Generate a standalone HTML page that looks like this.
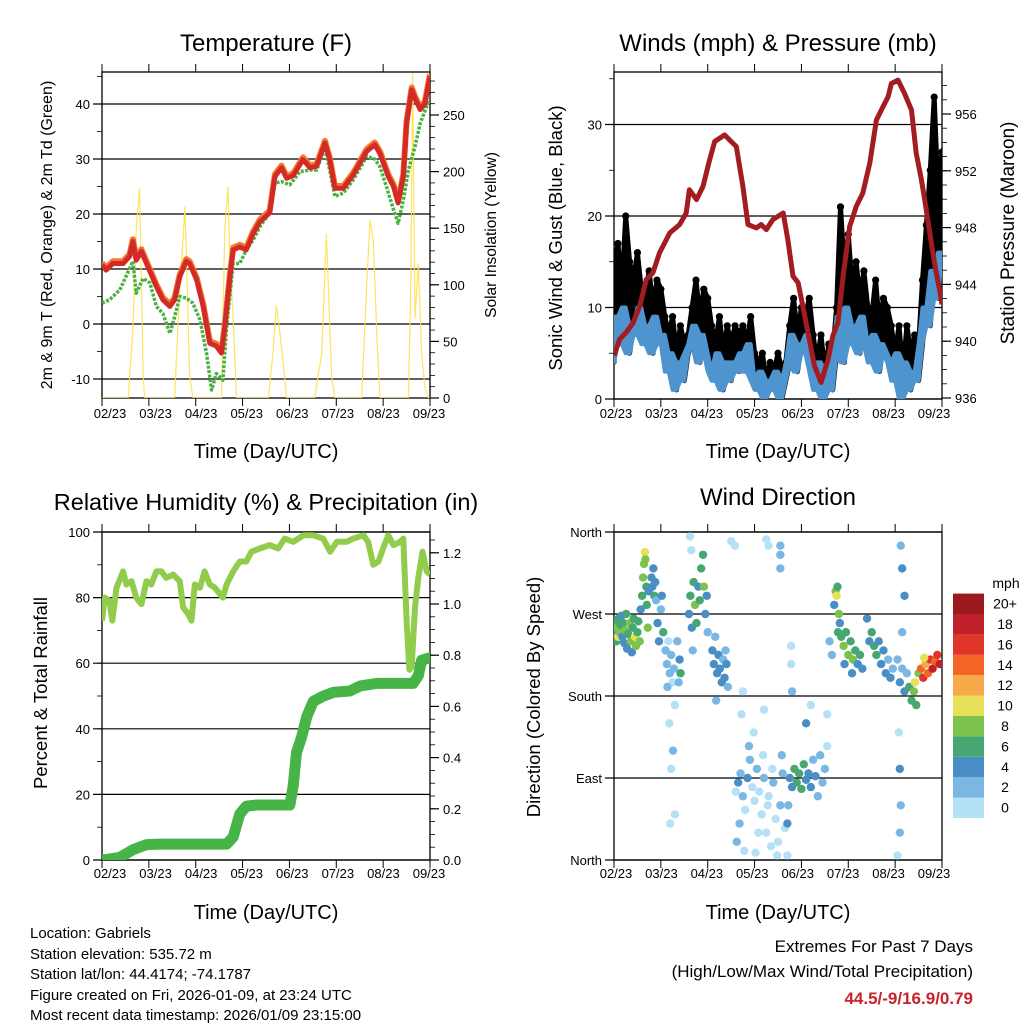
<!DOCTYPE html>
<html><head><meta charset="utf-8"><style>
html,body{margin:0;padding:0;background:#fff;}
svg{display:block;font-family:"Liberation Sans",sans-serif;}
</style></head><body>
<svg id="root" width="1024" height="1024" viewBox="0 0 1024 1024" xmlns="http://www.w3.org/2000/svg">
<defs>
<clipPath id="c1"><rect x="102" y="72" width="328" height="326"/></clipPath>
<clipPath id="c2"><rect x="614" y="72" width="328" height="327"/></clipPath>
<clipPath id="c3"><rect x="102" y="532" width="328" height="328"/></clipPath>
<clipPath id="c4"><rect x="614" y="532" width="328" height="328"/></clipPath>
</defs>
<g id="layer"></g>
<text x="266" y="51" font-size="24" text-anchor="middle">Temperature (F)</text>
<text x="778" y="51" font-size="24" text-anchor="middle">Winds (mph) &amp; Pressure (mb)</text>
<text x="266" y="510" font-size="23.5" text-anchor="middle">Relative Humidity (%) &amp; Precipitation (in)</text>
<text x="778" y="505" font-size="24" text-anchor="middle">Wind Direction</text>
<text x="266" y="458" font-size="20" text-anchor="middle">Time (Day/UTC)</text>
<text x="778" y="458" font-size="20" text-anchor="middle">Time (Day/UTC)</text>
<text x="266" y="919" font-size="20" text-anchor="middle">Time (Day/UTC)</text>
<text x="778" y="919" font-size="20" text-anchor="middle">Time (Day/UTC)</text>
<text transform="translate(52,235) rotate(-90)" font-size="16" text-anchor="middle">2m &amp; 9m T (Red, Orange) &amp; 2m Td (Green)</text>
<text transform="translate(496,235) rotate(-90)" font-size="15.5" text-anchor="middle">Solar Insolation (Yellow)</text>
<text transform="translate(562,238) rotate(-90)" font-size="18.5" text-anchor="middle">Sonic Wind &amp; Gust (Blue, Black)</text>
<text transform="translate(1014,233) rotate(-90)" font-size="19" text-anchor="middle">Station Pressure (Maroon)</text>
<text transform="translate(47,693) rotate(-90)" font-size="18.5" text-anchor="middle">Percent &amp; Total Rainfall</text>
<text transform="translate(540,697) rotate(-90)" font-size="18.5" text-anchor="middle">Direction (Colored By Speed)</text>
<g font-size="15">
<text x="30" y="938">Location: Gabriels</text>
<text x="30" y="959">Station elevation: 535.72 m</text>
<text x="30" y="979">Station lat/lon: 44.4174; -74.1787</text>
<text x="30" y="1000">Figure created on Fri, 2026-01-09, at 23:24 UTC</text>
<text x="30" y="1020">Most recent data timestamp: 2026/01/09 23:15:00</text>
</g>
<g font-size="17" text-anchor="end">
<text x="973" y="952">Extremes For Past 7 Days</text>
<text x="973" y="977">(High/Low/Max Wind/Total Precipitation)</text>
<text x="973" y="1004" fill="#c8232c" font-weight="bold">44.5/-9/16.9/0.79</text>
</g>
</svg>
<script>
// ---- Temperature data ----
const tempT=[0,0.09,0.23,0.45,0.59,0.66,0.73,0.84,0.98,1.16,1.30,1.45,1.55,1.66,1.80,1.87,2.02,2.16,2.30,2.44,2.55,2.62,2.73,2.80,2.94,3.08,3.23,3.37,3.58,3.69,3.83,3.94,4.08,4.29,4.44,4.58,4.76,4.86,4.97,5.15,5.36,5.65,5.82,5.93,6.11,6.22,6.32,6.43,6.50,6.61,6.68,6.79,6.89,7.0];
const tempV=[10.7,9.8,11,11,12.3,15,11.6,13.2,10.4,6.8,4.4,3.2,4.4,8.6,11.4,11,8,3.2,-3.5,-4,-5.3,-0.5,8.6,13.5,14,13.5,16.5,18.6,20.2,26.8,28.4,26.5,27,29.9,28.4,28.7,32.9,29.9,24.7,24.7,27.1,31.4,32.6,31,26.8,25,22,26.8,36.5,42.6,41,39,40,45];
const dewT=[0,0.16,0.38,0.66,0.73,0.88,1.02,1.16,1.30,1.45,1.55,1.66,1.80,1.94,2.09,2.23,2.34,2.44,2.58,2.66,2.80,2.94,3.08,3.23,3.37,3.58,3.69,3.83,4.01,4.22,4.44,4.58,4.76,4.86,4.97,5.15,5.36,5.65,5.82,5.93,6.07,6.22,6.32,6.43,6.54,6.68,6.79,6.93,7.0];
const dewV=[3.8,4.4,6.2,11.4,5.6,8.3,7.5,3.2,1.9,-1.7,1.3,5,4.7,3.8,0.8,-5.3,-12,-9,-10.2,-0.5,11,11,13.5,15.3,17.7,20.2,25.6,25.9,25.3,27.7,28,28,32,28,23.2,23.8,26.2,30.5,30,28.6,25,20.8,18.3,22.5,28,32.3,36.5,39.6,40.8];
const solarT=[0,0.56,0.66,0.73,0.80,0.84,0.88,0.91,1.55,1.66,1.73,1.77,1.80,1.87,1.94,2.55,2.62,2.69,2.73,2.80,2.87,3.55,3.65,3.72,3.79,3.87,3.94,4.54,4.69,4.79,4.83,4.90,4.97,5.54,5.65,5.72,5.79,5.86,5.93,6.54,6.59,6.63,6.68,6.75,6.82,6.89,6.96,7.0];
const solarV=[0,0,60,150,185,100,20,0,0,100,140,169,130,20,0,0,150,187,120,70,0,0,40,82,60,30,0,0,40,145,100,20,0,0,100,157,140,60,0,0,100,287,70,119,40,10,0,0];
// ---- Winds data ----
const windV=[4,9,6,10,5,8,7,10,6,8,5,9,6,7,3,5,1,4,2,5,6,8,4,7,5,3,2,5,1,4,2,4,3,5,3,6,2,1,3,0,2,1,3,0,2,4,7,3,6,5,7,3,1,4,0,3,1,5,9,4,10,6,8,5,9,6,4,7,3,6,5,4,2,5,0,4,1,3,2,6,10,8,14,11,16];
const gustV=[14,17,12,20,15,13,16,12,11,14,10,13,12,9,7,9,5,8,6,7,10,13,9,12,11,8,6,9,5,8,6,8,7,8,6,9,5,4,5,2,4,3,5,3,4,8,11,7,10,9,11,7,4,7,3,6,5,10,21,14,18,12,15,11,14,10,9,13,8,11,10,8,5,8,3,8,5,7,6,13,19,25,33,22,27];
const presT=[0,0.12,0.26,0.41,0.55,0.69,0.83,0.97,1.19,1.40,1.54,1.61,1.76,1.90,2.04,2.15,2.36,2.50,2.61,2.75,2.86,3.04,3.14,3.25,3.39,3.61,3.71,3.82,3.93,4.03,4.18,4.28,4.42,4.57,4.67,4.78,4.89,5.03,5.17,5.31,5.46,5.60,5.74,5.85,5.92,6.06,6.20,6.35,6.45,6.56,6.63,6.74,6.85,6.96,7.0];
const presV=[938.97,940.14,940.61,941.31,942.48,944.35,944.82,946.22,947.63,948.21,949.03,950.67,949.97,950.9,952.77,954.06,954.53,954.06,953.71,950.9,948.21,947.98,948.21,947.86,948.56,949.03,947.16,944.58,944.12,942.48,939.91,938.27,937.1,938.74,940.37,941.31,944.58,948.09,949.5,950.43,952.54,955.58,956.51,957.22,958.15,958.39,957.45,956.28,953.24,951.37,949.97,947.63,945.29,943.42,942.6];
// ---- RH / precipitation ----
const rhT=[0,0.06,0.16,0.22,0.31,0.45,0.52,0.63,0.73,0.84,0.95,1.05,1.16,1.27,1.37,1.52,1.66,1.73,1.84,1.91,1.98,2.09,2.19,2.30,2.41,2.58,2.66,2.80,2.94,3.08,3.19,3.37,3.58,3.76,3.90,4.08,4.30,4.51,4.72,4.87,5.01,5.22,5.36,5.58,5.68,5.79,5.90,6.00,6.11,6.22,6.36,6.43,6.50,6.56,6.61,6.68,6.75,6.84,6.93,7.0];
const rhV=[73,80,79,73,83,88,84,85,80,78,85,84,88,88,86,87,85,77,75,73,84,83,88,84,83,80,84,88,91,91,94,95,96,95,98,97,99,99,98,94,97,97,98,99,97,90,91,95,99,96,97,98,73,58,59,77,86,94,88,87];
const prT=[0,0.38,0.66,0.95,1.23,2.66,2.80,2.94,3.08,3.30,4.01,4.08,4.15,4.26,4.37,4.51,4.72,4.94,5.29,5.51,5.86,6.64,6.75,6.82,7.0];
const prV=[0,0.01,0.04,0.06,0.062,0.062,0.09,0.18,0.21,0.215,0.215,0.29,0.42,0.48,0.56,0.62,0.64,0.655,0.66,0.68,0.69,0.69,0.72,0.78,0.79];
// ---- Wind direction ----
const dirT=[0.02,0.03,0.05,0.07,0.09,0.1,0.12,0.14,0.16,0.18,0.2,0.22,0.24,0.26,0.28,0.3,
0.34,0.36,0.38,0.4,0.42,0.45,0.47,0.5,0.52,0.55,0.57,0.6,0.62,0.64,0.66,0.67,0.69,0.7,0.72,0.74,
0.8,0.82,0.84,0.86,0.88,0.9,0.93,0.96,1.0,1.02,1.05,
1.1,1.13,1.16,1.19,1.22,1.25,1.28,1.3,1.18,1.22,1.2,1.26,1.3,1.38,1.4,1.42,1.35,1.14,
1.6,1.63,1.66,1.7,1.73,1.76,1.8,1.83,1.86,1.9,1.92,1.95,1.98,2.0,1.65,1.62,1.68,
2.1,2.13,2.16,2.2,2.23,2.26,2.3,2.33,2.36,2.4,2.43,2.38,2.18,
2.6,2.65,2.7,2.75,2.8,2.85,2.9,2.95,3.0,3.05,3.1,3.15,3.2,3.25,3.3,3.35,3.4,3.45,3.5,3.55,3.6,3.65,3.7,2.62,2.68,2.78,2.88,2.98,3.08,3.18,3.28,3.38,3.48,3.58,3.02,2.72,2.5,2.58,3.25,3.3,3.55,3.55,3.55,2.75,3.2,
3.75,3.8,3.85,3.9,3.95,4.0,4.05,4.1,4.15,4.2,4.25,4.3,4.35,4.4,4.45,4.5,4.55,3.72,3.7,4.1,3.8,3.78,3.78,4.2,4.55,
4.6,4.65,4.7,4.73,4.75,4.77,4.8,4.82,4.78,
4.85,4.9,4.95,5.0,5.05,5.1,5.15,5.2,5.25,5.3,4.92,5.08,
5.4,5.45,5.5,5.55,5.6,5.65,5.7,5.75,5.8,5.85,5.9,5.95,
6.05,6.1,6.15,6.2,6.25,6.3,6.35,6.4,6.45,6.42,6.5,6.08,6.1,6.12,6.1,6.05,6.15,6.2,6.15,6.12,
6.55,6.6,6.65,6.7,6.75,6.8,6.85,6.9,6.95,6.62];
const dirD=[250,262,240,255,245,265,250,258,268,245,260,238,252,270,232,248,
260,240,228,255,265,245,235,250,262,240,275,290,310,325,338,330,300,280,255,295,
310,300,320,290,305,285,260,240,275,290,250,
230,215,240,205,225,195,210,170,150,100,40,120,50,195,220,205,240,190,
270,290,255,305,280,260,300,285,320,335,300,270,290,250,340,355,230,
230,215,245,205,225,210,195,220,200,215,190,230,175,
75,85,95,70,55,90,110,80,65,100,75,50,90,30,70,15,85,45,20,60,95,35,5,20,40,10,125,140,30,115,60,100,5,115,8,160,350,345,352,345,335,320,345,185,165,
90,80,100,85,95,78,105,88,95,80,110,92,70,115,85,100,125,60,40,150,185,215,235,170,160,
240,225,280,295,290,300,270,260,250,
245,235,250,225,240,220,230,215,225,210,215,205,
265,240,250,235,225,240,215,230,205,220,200,210,
220,195,210,185,205,190,175,185,170,195,205,140,100,60,30,5,250,290,320,345,
210,200,215,205,220,210,218,225,215,222];
const dirS=[4,6,6,8,10,7,9,6,5,4,7,5,8,6,4,7,
8,9,5,7,6,10,8,6,7,9,4,6,8,9,10,8,6,7,9,5,
4,4,4,6,4,3,4,5,3,4,6,
2,2,1,2,3,1,2,1,1,1,1,2,1,2,4,6,2,2,
4,6,4,6,8,6,4,6,6,6,8,4,4,3,1,1,2,
4,4,3,4,4,4,4,3,4,4,2,3,2,
1,4,3,2,1,4,2,1,1,2,1,1,2,1,1,1,2,1,1,2,3,1,1,2,2,1,3,1,1,1,1,1,1,2,1,1,1,1,1,1,2,2,2,1,1,
4,5,6,6,7,6,6,4,4,4,3,4,2,2,2,2,1,3,4,4,2,1,1,1,1,
3,3,4,8,10,6,8,4,6,
6,8,7,8,6,8,6,4,6,4,4,4,
4,4,6,6,6,4,4,4,4,2,4,2,
2,4,2,4,2,6,6,8,6,10,8,1,4,2,2,1,2,4,4,2,
14,16,12,14,16,18,14,16,18,10];
const speedColors=["#b5e1f7","#7ab8e3","#4a8ec6","#47a772","#7dc24c","#e6e05a","#f8a94a","#f26524","#e0352b","#c0202a","#9b1a1d"];
const speedLabels=["0","2","4","6","8","10","12","14","16","18","20+"];
const dayLabels=["02/23","03/23","04/23","05/23","06/23","07/23","08/23","09/23"];
const tempTicks=[-10,0,10,20,30,40];
const solarTicks=[0,50,100,150,200,250];
const windTicks=[0,10,20,30];
const presTicks=[936,940,944,948,952,956];
const rhTicks=[0,20,40,60,80,100];
const prTicks=[0,0.2,0.4,0.6,0.8,1.0,1.2];
const dirTicks=[0,90,180,270,360];
const dirNames=["North","East","South","West","North"];

const NS="http://www.w3.org/2000/svg";
const layer=document.getElementById('layer');
function mk(tag,attrs,parent){const e=document.createElementNS(NS,tag);for(const k in attrs)e.setAttribute(k,attrs[k]);(parent||layer).appendChild(e);return e;}
function grp(name,clip){const g=document.createElementNS(NS,'g');


if(clip)g.setAttribute('clip-path','url(#'+clip+')');layer.appendChild(g);return g;}

// axis functions
const X1=t=>102+t/7*328, X2=t=>614+t/7*328;
const yT=v=>324-v*5.5, ySol=v=>398-v*1.132;
const yW=v=>399-v*9.15, yP=p=>398-(p-936)*14.2;
const yRH=v=>860-v*3.28, yPr=v=>860-v*256;
const yD=d=>860-d/360*328;

function polyPts(ts,vs,fx,fy){return ts.map((t,i)=>fx(t).toFixed(1)+','+fy(vs[i]).toFixed(1)).join(' ');}

function frame(name,x0,y0,x1,y1,labelCenters,labelY){
  const g=grp(name);
  for(let i=0;i<8;i++){const x=x0+i*(x1-x0)/7;
    mk('line',{x1:x,y1:y1,x2:x,y2:y1+8,stroke:'#000','stroke-width':1},g);
    mk('line',{x1:x,y1:y0,x2:x,y2:y0-8,stroke:'#000','stroke-width':1},g);
    const lb=mk('text',{x:labelCenters[0]+i*(labelCenters[1]-labelCenters[0])/7,y:labelY,'font-size':13,'text-anchor':'middle'},g);
    lb.textContent=dayLabels[i];
    
    
  }
  const r=mk('rect',{x:x0,y:y0,width:x1-x0,height:y1-y0,fill:'none',stroke:'#000','stroke-width':1.3},g);
  
  
  return g;
}
function leftAxis(g,ticks,fy,x0,x1,fmt,grid,minorStep,lo,hi,labels){
  ticks.forEach((v,i)=>{const y=fy(v);
    mk('line',{x1:x0-9,y1:y,x2:grid?x1:x0,y2:y,stroke:'#000','stroke-width':1.2},g);
    const t=mk('text',{x:x0-12,y:y+5,'font-size':13,'text-anchor':'end'},g);
    t.textContent=labels?labels[i]:fmt(v);
    
    
  });
  if(minorStep){for(let v=lo;v<=hi+1e-9;v+=minorStep){const y=fy(v);mk('line',{x1:x0-5,y1:y,x2:x0,y2:y,stroke:'#000','stroke-width':0.8},g);}}
}
function rightAxis(g,ticks,fy,x1,fmt,minorStep,lo,hi){
  ticks.forEach(v=>{const y=fy(v);
    mk('line',{x1:x1,y1:y,x2:x1+9,y2:y,stroke:'#000','stroke-width':1.2},g);
    const t=mk('text',{x:x1+13,y:y+5,'font-size':13},g);
    t.textContent=fmt(v);
    
    
  });
  if(minorStep){for(let v=lo;v<=hi+1e-9;v+=minorStep){const y=fy(v);mk('line',{x1:x1,y1:y,x2:x1+5,y2:y,stroke:'#000','stroke-width':0.8},g);}}
}

// ===== Panel 1 =====
{const a=frame('temperature-axes',102,72,430,398,[110,429],418);
 leftAxis(a,tempTicks,yT,102,430,v=>String(v),true,5,-10,45);
 rightAxis(a,solarTicks,ySol,430,v=>String(v),10,0,280);
 const g=grp('temperature-series','c1');
 const s=mk('polyline',{points:polyPts(solarT,solarV,X1,ySol),fill:'none',stroke:'#fde24f','stroke-width':1.2,opacity:0.9},g);
 
 const o=mk('polyline',{points:polyPts(tempT,tempV.map(v=>v+0.4),X1,yT),fill:'none',stroke:'#f07a2e','stroke-width':6,'stroke-linejoin':'round'},g);
 
 const d=mk('polyline',{points:polyPts(dewT,dewV,X1,yT),fill:'none',stroke:'#4bb140','stroke-width':3.5,'stroke-dasharray':'3 1.5','stroke-linejoin':'round'},g);
 
 const r=mk('polyline',{points:polyPts(tempT,tempV,X1,yT),fill:'none',stroke:'#d42a27','stroke-width':5,'stroke-linejoin':'round'},g);
 
}
// ===== Panel 2 =====
{const a=frame('winds-axes',614,72,942,399,[616,934],418);
 leftAxis(a,windTicks,yW,614,942,v=>String(v),true,5,0,35);
 rightAxis(a,presTicks,yP,942,v=>String(v),1,936,958);
 const g=grp('winds-series','c2');
 const n=windV.length;
 // gust band: area between wind and gust
 let up=[],lo=[];
 for(let i=0;i<n;i++){const x=X2(i/12);up.push(x.toFixed(1)+','+yW(gustV[i]).toFixed(1));lo.unshift(x.toFixed(1)+','+yW(windV[i]).toFixed(1));}
 const gb=mk('polygon',{points:up.concat(lo).join(' '),fill:'#000',stroke:'#000','stroke-width':5,'stroke-linejoin':'round'},g);
 
 gustV.forEach((v,i)=>{
   const c=mk('circle',{cx:X2(i/12),cy:yW(v),r:3.6,fill:'#000'},g);
   
 });
 // wind band between successive highs/lows
 let wu=[],wl=[];
 for(let i=0;i<n;i++){const x=X2(i/12);const nb=i<n-1?windV[i+1]:windV[i];
   wu.push(x.toFixed(1)+','+yW(Math.max(windV[i],nb)).toFixed(1));
   wl.unshift(x.toFixed(1)+','+yW(Math.min(windV[i],nb)).toFixed(1));}
 const b=mk('polygon',{points:wu.concat(wl).join(' '),fill:'#4e94cf',stroke:'#4e94cf','stroke-width':4,'stroke-linejoin':'round'},g);
 
 const p=mk('polyline',{points:polyPts(presT,presV,X2,yP),fill:'none',stroke:'#a31c1f','stroke-width':5,'stroke-linejoin':'round'},g);
 
}
// ===== Panel 3 =====
{const a=frame('humidity-axes',102,532,430,860,[110,429],878);
 leftAxis(a,rhTicks,yRH,102,430,v=>String(v),true,10,0,100);
 rightAxis(a,prTicks,yPr,430,v=>v.toFixed(1),0.05,0,1.25);
 const g=grp('humidity-series','c3');
 const h=mk('polyline',{points:polyPts(rhT,rhV,X1,yRH),fill:'none',stroke:'#92cc4d','stroke-width':6,'stroke-linejoin':'round'},g);
 
 const q=mk('polyline',{points:polyPts(prT,prV,X1,yPr),fill:'none',stroke:'#46b446','stroke-width':11,'stroke-linejoin':'round','stroke-linecap':'round'},g);
 
}
// ===== Panel 4 =====
{const a=frame('direction-axes',614,532,942,860,[616,934],878);
 leftAxis(a,dirTicks,yD,614,942,null,true,0,0,0,dirNames);
 const g=grp('direction-series','c4');
 dirT.forEach((t,i)=>{const bin=Math.min(10,Math.floor(dirS[i]/2));
   const c=mk('circle',{cx:X2(t),cy:yD(dirD[i]),r:4.2,fill:speedColors[bin]},g);
   
   
 });
 const cb=grp('speed-colorbar');
 speedColors.forEach((col,i)=>{const y=818-(i+1)*20.4;
   const r=mk('rect',{x:953,y:y,width:31,height:20.4,fill:col},cb);
   
   
   const t=mk('text',{x:1005,y:y+15,'font-size':14,'text-anchor':'middle'},cb);
   t.textContent=speedLabels[i];
   
   
 });
 const u=mk('text',{x:1006,y:588,'font-size':14,'text-anchor':'middle'},cb);
 u.textContent='mph';
 
 
}
</script>
</body></html>
